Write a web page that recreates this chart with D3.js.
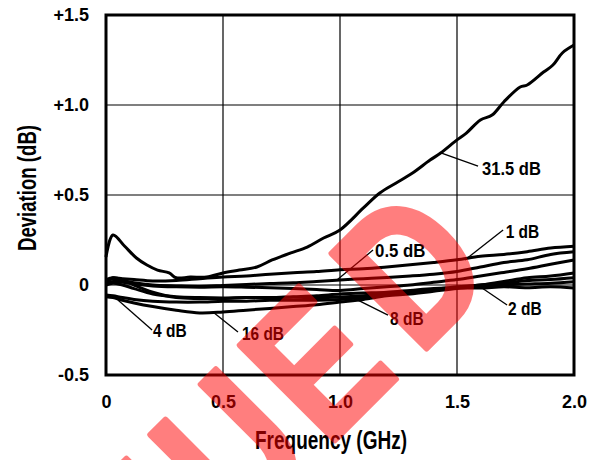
<!DOCTYPE html>
<html>
<head>
<meta charset="utf-8">
<script src="https://cdn.jsdelivr.net/npm/d3@7"></script>
<style>
body { margin: 0; background: #fff; }
text { font-family: "Liberation Sans", Arial, sans-serif; font-weight: bold; }
</style>
</head>
<body>
<div class="chart"></div>
<script>
// data (GHz / dB)
var freq = [0, 0.03, 0.07, 0.12, 0.2, 0.3, 0.4, 0.5, 0.6, 0.7, 0.8, 0.9, 1.0, 1.1, 1.2, 1.3, 1.4, 1.5, 1.6, 1.7, 1.8, 1.9, 2.0];
var dev1  = [0.03, 0.04, 0.035, 0.03, 0.022, 0.025, 0.035, 0.045, 0.05, 0.06, 0.068, 0.075, 0.085, 0.09, 0.1, 0.112, 0.125, 0.14, 0.16, 0.17, 0.185, 0.205, 0.215];
var dev05 = [0.02, 0.035, 0.025, 0.012, 0.0, -0.005, -0.008, -0.003, 0.003, 0.008, 0.012, 0.02, 0.028, 0.035, 0.042, 0.05, 0.06, 0.075, 0.1, 0.125, 0.14, 0.17, 0.185];
var devX  = [0.01, 0.02, 0.015, 0.005, -0.005, -0.01, -0.012, -0.01, -0.012, -0.015, -0.02, -0.025, -0.03, -0.02, -0.01, 0.0, 0.015, 0.03, 0.05, 0.07, 0.09, 0.115, 0.139];
var dev2  = [0.02, 0.04, 0.03, 0.0, -0.04, -0.07, -0.075, -0.075, -0.07, -0.07, -0.065, -0.06, -0.05, -0.045, -0.04, -0.03, -0.02, -0.015, -0.017, -0.01, -0.015, -0.01, -0.017];
var dev8  = [0.0, 0.01, 0.0, -0.02, -0.05, -0.065, -0.07, -0.072, -0.07, -0.07, -0.068, -0.07, -0.067, -0.06, -0.05, -0.04, -0.025, -0.01, 0.0, 0.02, 0.04, 0.05, 0.067];
var dev4  = [-0.055, -0.06, -0.07, -0.08, -0.09, -0.095, -0.095, -0.09, -0.09, -0.085, -0.085, -0.085, -0.08, -0.07, -0.055, -0.04, -0.03, -0.015, 0.0, 0.01, 0.025, 0.03, 0.04];
var dev16 = [-0.065, -0.07, -0.085, -0.1, -0.12, -0.14, -0.155, -0.15, -0.14, -0.13, -0.12, -0.11, -0.095, -0.08, -0.06, -0.05, -0.035, -0.02, -0.01, 0.0, 0.005, 0.01, 0.018];

var freq315 = [0, 0.03, 0.08, 0.13, 0.175, 0.22, 0.27, 0.3, 0.36, 0.43, 0.5, 0.57, 0.645, 0.71, 0.79, 0.86, 0.93, 1.0, 1.1, 1.17, 1.24, 1.31, 1.385, 1.43, 1.5, 1.54, 1.6, 1.65, 1.7, 1.77, 1.8, 1.87, 1.91, 1.95, 2.0];
var dev315  = [0.156, 0.278, 0.215, 0.15, 0.111, 0.083, 0.067, 0.04, 0.044, 0.044, 0.067, 0.083, 0.1, 0.139, 0.178, 0.211, 0.261, 0.306, 0.428, 0.511, 0.567, 0.622, 0.694, 0.733, 0.806, 0.844, 0.917, 0.944, 1.017, 1.1, 1.111, 1.183, 1.222, 1.289, 1.333];

var xTicks = [0, 0.5, 1.0, 1.5, 2.0];
var xTickLabels = ["0", "0.5", "1.0", "1.5", "2.0"];
var yTicks = [-0.5, 0, 0.5, 1.0, 1.5];
var yTickLabels = ["-0.5", "0", "+0.5", "+1.0", "+1.5"];

// curve labels: text, point on curve, leader end, text position (GHz, dB)
var labelText = ["31.5 dB", "1 dB", "0.5 dB", "8 dB", "2 dB", "16 dB", "4 dB"];
var labelAt   = [[1.434, 0.733], [1.534, 0.139], [0.987, 0.028], [1.051, -0.067], [1.607, -0.017], [0.457, -0.15], [0.051, -0.083]];
var labelEnd  = [[1.59, 0.661], [1.697, 0.306], [1.141, 0.194], [1.205, -0.167], [1.714, -0.111], [0.564, -0.261], [0.197, -0.25]];
var labelPos  = [[1.607, 0.611], [1.708, 0.261], [1.15, 0.156], [1.214, -0.222], [1.718, -0.167], [0.581, -0.306], [0.201, -0.289]];

var margin = {top: 15, right: 21, bottom: 85, left: 106};
var width = 595 - margin.left - margin.right;
var height = 460 - margin.top - margin.bottom;

var root = d3.select(".chart")
    .append("svg")
    .attr("width", 595)
    .attr("height", 460);
var svg = root.append("g")
    .attr("transform", "translate(" + margin.left + "," + margin.top + ")");

var x = d3.scaleLinear().domain([0, 2]).range([0, width]);
var y = d3.scaleLinear().domain([-0.5, 1.5]).range([height, 0]);

// grid
svg.selectAll(".vgrid").data([0.5, 1.0, 1.5]).enter().append("line")
    .attr("x1", function(d) { return x(d); }).attr("x2", function(d) { return x(d); })
    .attr("y1", 0).attr("y2", height)
    .attr("stroke", "#000").attr("stroke-width", 1.2);
svg.selectAll(".hgrid").data([0, 0.5, 1.0]).enter().append("line")
    .attr("y1", function(d) { return y(d); }).attr("y2", function(d) { return y(d); })
    .attr("x1", 0).attr("x2", width)
    .attr("stroke", "#000").attr("stroke-width", 1.2);

// axes
var xAxis = svg.append("g")
    .attr("transform", "translate(0," + height + ")")
    .call(d3.axisBottom(x).tickValues(xTicks).tickFormat(function(d, i) { return xTickLabels[i]; }).tickSize(0).tickPadding(20));
var yAxis = svg.append("g")
    .call(d3.axisLeft(y).tickValues(yTicks).tickFormat(function(d, i) { return yTickLabels[i]; }).tickSize(0).tickPadding(17));
[xAxis, yAxis].forEach(function(a) {
  a.select(".domain").remove();
  a.selectAll("text")
      .style("font-family", "'Liberation Sans', Arial, sans-serif")
      .style("font-weight", "bold")
      .style("font-size", "18px")
      .attr("fill", "#000");
});

// curves
var series = [dev1, dev05, devX, dev2, dev8, dev4, dev16];
var line = d3.line()
    .x(function(d) { return x(d[0]); })
    .y(function(d) { return y(d[1]); })
    .curve(d3.curveCatmullRom);

series.forEach(function(s) {
  svg.append("path")
      .datum(freq.map(function(f, i) { return [f, s[i]]; }))
      .attr("fill", "none")
      .attr("stroke", "#000")
      .attr("stroke-width", 3)
      .attr("d", line);
});
svg.append("path")
    .datum(freq315.map(function(f, i) { return [f, dev315[i]]; }))
    .attr("fill", "none")
    .attr("stroke", "#000")
    .attr("stroke-width", 3)
    .attr("d", line);

// frame
svg.append("rect")
    .attr("x", 0).attr("y", 0).attr("width", width).attr("height", height)
    .attr("fill", "none").attr("stroke", "#000").attr("stroke-width", 3);

// curve labels with leaders
labelText.forEach(function(t, i) {
  svg.append("line")
      .attr("x1", x(labelAt[i][0])).attr("y1", y(labelAt[i][1]))
      .attr("x2", x(labelEnd[i][0])).attr("y2", y(labelEnd[i][1]))
      .attr("stroke", "#000").attr("stroke-width", 1.3);
  svg.append("text")
      .attr("x", x(labelPos[i][0])).attr("y", y(labelPos[i][1]))
      .attr("textLength", t.length * 8.4)
      .attr("lengthAdjust", "spacingAndGlyphs")
      .style("font-size", "19px")
      .text(t);
});

// axis titles
root.append("text")
    .attr("x", 331).attr("y", 449)
    .attr("text-anchor", "middle")
    .attr("textLength", 152)
    .attr("lengthAdjust", "spacingAndGlyphs")
    .style("font-size", "25px")
    .text("Frequency (GHz)");
root.append("text")
    .attr("transform", "translate(36,188) rotate(-90)")
    .attr("text-anchor", "middle")
    .attr("textLength", 126)
    .attr("lengthAdjust", "spacingAndGlyphs")
    .style("font-size", "25px")
    .text("Deviation (dB)");

// watermark (the word runs off the bottom-left corner)
var wm = root.append("g")
    .attr("opacity", 0.5)
    .attr("transform", "translate(327,448) rotate(-45) scale(0.8,1)");
[["DISCONTINU", "end", 16], ["ED", "start", 32]].forEach(function(p) {
  wm.append("text")
      .attr("text-anchor", p[1])
      .style("font-family", "'Liberation Sans', sans-serif")
      .style("font-weight", "bold")
      .style("font-size", "195px")
      .style("letter-spacing", p[2] + "px")
      .attr("fill", "#f00")
      .attr("stroke", "#f00")
      .attr("stroke-width", 6)
      .attr("stroke-linejoin", "round")
      .text(p[0]);
});
</script>
</body>
</html>
